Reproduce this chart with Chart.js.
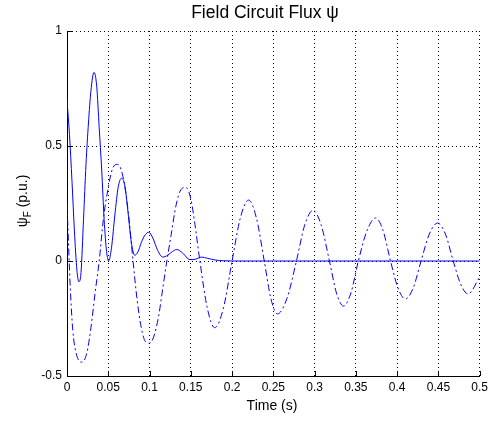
<!DOCTYPE html>
<html>
<head>
<meta charset="utf-8">
<script src="https://cdn.jsdelivr.net/npm/chart.js@4/dist/chart.umd.min.js"></script>
<style>
  body { margin: 0; background: #fff; }
  #chart { display: block; }
</style>
</head>
<body>
<canvas id="chart" width="492" height="421"></canvas>
<script>
// Dados (tempo em s, fluxo em p.u.)
const timeSolid = [0, 0.003, 0.006, 0.009, 0.012, 0.0145, 0.017, 0.020, 0.023, 0.026, 0.029, 0.0327,
  0.036, 0.039, 0.042, 0.045, 0.048, 0.0505, 0.054, 0.058, 0.062, 0.066, 0.070, 0.074, 0.078, 0.082,
  0.086, 0.090, 0.095, 0.099, 0.104, 0.110, 0.116, 0.122, 0.128, 0.133, 0.140, 0.149, 0.156, 0.163,
  0.170, 0.180, 0.190, 0.200, 0.25, 0.3, 0.35, 0.4, 0.45, 0.5];
const fluxSolid = [0.70, 0.55, 0.35, 0.13, -0.04, -0.09, -0.05, 0.18, 0.42, 0.60, 0.74, 0.82,
  0.76, 0.58, 0.40, 0.18, 0.04, 0.00, 0.06, 0.20, 0.32, 0.36, 0.33, 0.21, 0.08, 0.025,
  0.04, 0.08, 0.115, 0.125, 0.10, 0.045, 0.017, 0.025, 0.042, 0.05, 0.035, 0.006, 0.008, 0.017,
  0.012, 0.004, 0.001, 0, 0, 0, 0, 0, 0, 0];

const timeDash = [0, 0.002, 0.004, 0.007, 0.011, 0.018, 0.024, 0.029, 0.034, 0.039, 0.044, 0.049,
  0.055, 0.061, 0.067, 0.074, 0.080, 0.085, 0.090, 0.095, 0.100, 0.105, 0.111, 0.116, 0.121,
  0.126, 0.132, 0.138, 0.144, 0.150, 0.155, 0.161, 0.170, 0.179, 0.1895, 0.200, 0.210, 0.220,
  0.2295, 0.239, 0.247, 0.255, 0.2665, 0.278, 0.288, 0.298, 0.308, 0.318, 0.3265, 0.335, 0.344,
  0.353, 0.3635, 0.374, 0.383, 0.392, 0.401, 0.410, 0.4195, 0.429, 0.439, 0.449, 0.4585, 0.468,
  0.477, 0.486, 0.5];
const fluxDash = [0.25, 0.06, -0.12, -0.30, -0.40, -0.44, -0.40, -0.29, -0.14, 0.0, 0.18, 0.30,
  0.40, 0.42, 0.38, 0.22, 0.0, -0.17, -0.29, -0.35, -0.357, -0.33, -0.24, -0.12, 0.0,
  0.11, 0.24, 0.31, 0.32, 0.27, 0.16, 0.0, -0.205, -0.29, -0.205, 0.0, 0.187, 0.265,
  0.187, 0.0, -0.163, -0.23, -0.163, 0.0, 0.156, 0.22, 0.156, 0.0, -0.139, -0.196, -0.139,
  0.0, 0.132, 0.187, 0.132, 0.0, -0.117, -0.165, -0.117, 0.0, 0.117, 0.165, 0.117, 0.0,
  -0.101, -0.143, -0.07];

const xTicks = [0, 0.05, 0.1, 0.15, 0.2, 0.25, 0.3, 0.35, 0.4, 0.45, 0.5];
const yTicks = [-0.5, 0, 0.5, 1];

const titleText = 'Field Circuit Flux ψ';
const xLabel = 'Time (s)';

const FONT = '"Liberation Sans", Arial, Helvetica, sans-serif';

function toPoints(xs, ys) {
  return xs.map((x, i) => ({ x: x, y: ys[i] }));
}

// Plugin: textos (título, rótulos) e marcas de escala para dentro
const decoracoes = {
  id: 'decoracoes',
  afterDraw(chart) {
    const ctx = chart.ctx;
    const area = chart.chartArea;
    const xs = chart.scales.x;
    const ys = chart.scales.y;

    ctx.save();
    ctx.strokeStyle = '#000';
    ctx.lineWidth = 1;
    ctx.beginPath();
    xTicks.forEach(v => {
      const px = Math.round(xs.getPixelForValue(v)) + 0.5;
      ctx.moveTo(px, area.bottom);
      ctx.lineTo(px, area.bottom - 5);
    });
    yTicks.forEach(v => {
      const py = Math.round(ys.getPixelForValue(v)) + 0.5;
      ctx.moveTo(area.left, py);
      ctx.lineTo(area.left + 5, py);
    });
    ctx.stroke();

    ctx.fillStyle = '#000';
    ctx.textAlign = 'center';
    ctx.textBaseline = 'alphabetic';
    ctx.font = '17.5px ' + FONT;
    ctx.fillText(titleText, 265, 18);

    ctx.font = '14px ' + FONT;
    ctx.fillText(xLabel, 272, 410);

    // rótulo do eixo y com subscrito
    ctx.translate(27, 201);
    ctx.rotate(-Math.PI / 2);
    const base = 'ψ';
    const sub = 'F';
    const rest = ' (p.u.)';
    ctx.font = '14px ' + FONT;
    const wBase = ctx.measureText(base).width;
    const wRest = ctx.measureText(rest).width;
    ctx.font = '10px ' + FONT;
    const wSub = ctx.measureText(sub).width;
    let x0 = -(wBase + wSub + wRest) / 2;
    ctx.textAlign = 'left';
    ctx.font = '14px ' + FONT;
    ctx.fillText(base, x0, 0);
    ctx.font = '10px ' + FONT;
    ctx.fillText(sub, x0 + wBase, 4);
    ctx.font = '14px ' + FONT;
    ctx.fillText(rest, x0 + wBase + wSub, 0);
    ctx.restore();
  }
};

new Chart(document.getElementById('chart'), {
  type: 'line',
  data: {
    datasets: [
      {
        data: toPoints(timeSolid, fluxSolid),
        borderColor: 'rgb(0,0,255)',
        borderWidth: 1,
        pointRadius: 0,
        cubicInterpolationMode: 'monotone'
      },
      {
        data: toPoints(timeDash, fluxDash),
        borderColor: 'rgb(0,0,255)',
        borderWidth: 1,
        borderDash: [7, 3, 2, 3],
        pointRadius: 0,
        cubicInterpolationMode: 'monotone'
      }
    ]
  },
  options: {
    responsive: false,
    animation: false,
    layout: { padding: { top: 31, right: 11, left: 0, bottom: 0 } },
    plugins: {
      legend: { display: false },
      tooltip: { enabled: false }
    },
    scales: {
      x: {
        type: 'linear',
        min: 0,
        max: 0.5,
        afterFit: s => { s.height = 45; },
        afterBuildTicks: s => { s.ticks = xTicks.map(v => ({ value: v })); },
        ticks: {
          color: '#000',
          font: { family: FONT, size: 12 },
          padding: 4,
          maxRotation: 0,
          autoSkip: false,
          callback: v => String(+v.toFixed(2))
        },
        grid: { color: '#000', lineWidth: 1, drawTicks: false },
        border: { display: true, color: '#000', width: 1, dash: [1, 3] }
      },
      y: {
        min: -0.5,
        max: 1,
        afterFit: s => { s.width = 67; },
        afterBuildTicks: s => { s.ticks = yTicks.map(v => ({ value: v })); },
        ticks: {
          color: '#000',
          font: { family: FONT, size: 12 },
          padding: 5,
          callback: v => String(+v.toFixed(2))
        },
        grid: { color: '#000', lineWidth: 1, drawTicks: false },
        border: { display: true, color: '#000', width: 1, dash: [1, 3] }
      }
    }
  },
  plugins: [decoracoes]
});
</script>
</body>
</html>
